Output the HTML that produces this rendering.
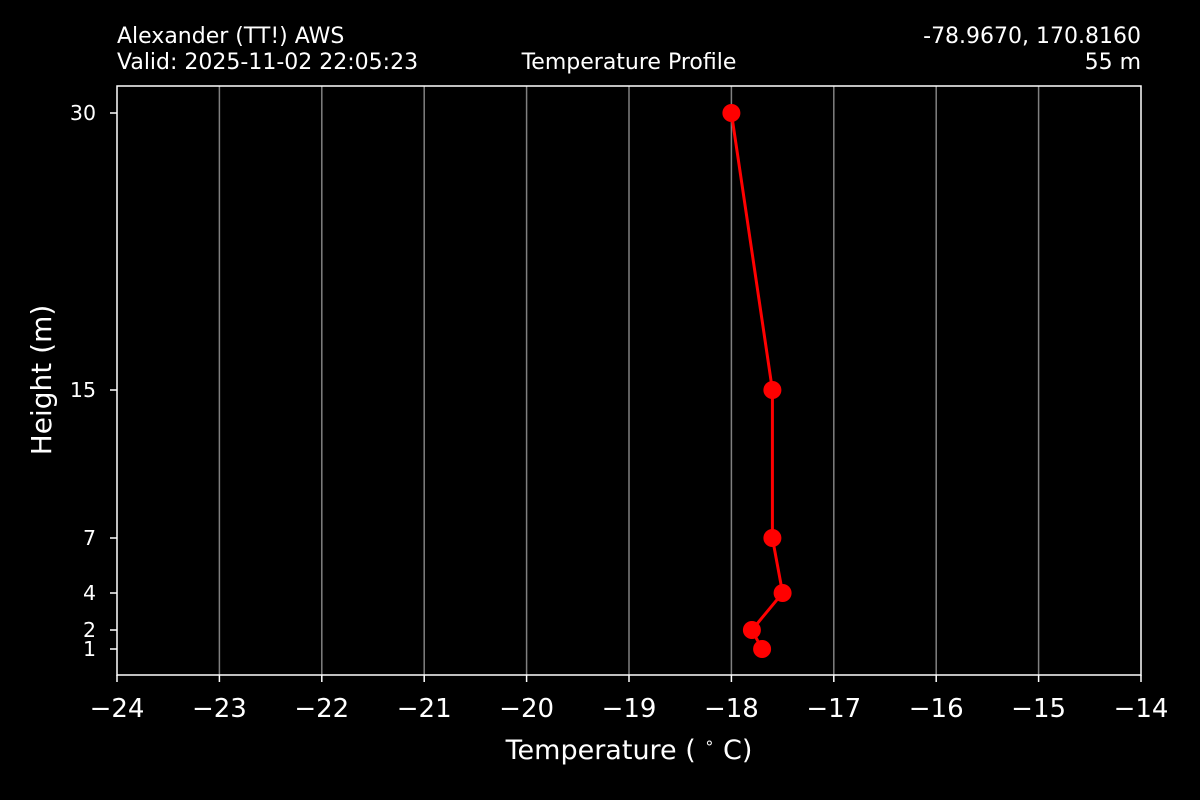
<!DOCTYPE html>
<html><head><meta charset="utf-8"><style>
html,body{margin:0;padding:0;background:#000;}
svg{display:block;font-family:"DejaVu Sans","Liberation Sans",sans-serif;}
</style></head><body>
<svg width="1200" height="800" viewBox="0 0 1200 800" xmlns="http://www.w3.org/2000/svg">
<rect width="1200" height="800" fill="#000"/>
<g stroke="#808080" stroke-width="1.5">
<line x1="219.4" y1="86" x2="219.4" y2="675"/>
<line x1="321.8" y1="86" x2="321.8" y2="675"/>
<line x1="424.2" y1="86" x2="424.2" y2="675"/>
<line x1="526.6" y1="86" x2="526.6" y2="675"/>
<line x1="629" y1="86" x2="629" y2="675"/>
<line x1="731.4" y1="86" x2="731.4" y2="675"/>
<line x1="833.8" y1="86" x2="833.8" y2="675"/>
<line x1="936.2" y1="86" x2="936.2" y2="675"/>
<line x1="1038.6" y1="86" x2="1038.6" y2="675"/>
</g>
<rect x="117" y="86" width="1024" height="589" fill="none" stroke="#fff" stroke-width="1.5"/>
<g stroke="#fff" stroke-width="1.5">
<line x1="117" y1="675" x2="117" y2="682"/><line x1="219.4" y1="675" x2="219.4" y2="682"/>
<line x1="321.8" y1="675" x2="321.8" y2="682"/><line x1="424.2" y1="675" x2="424.2" y2="682"/>
<line x1="526.6" y1="675" x2="526.6" y2="682"/><line x1="629" y1="675" x2="629" y2="682"/>
<line x1="731.4" y1="675" x2="731.4" y2="682"/><line x1="833.8" y1="675" x2="833.8" y2="682"/>
<line x1="936.2" y1="675" x2="936.2" y2="682"/><line x1="1038.6" y1="675" x2="1038.6" y2="682"/>
<line x1="1141" y1="675" x2="1141" y2="682"/>
<line x1="110" y1="113" x2="117" y2="113"/><line x1="110" y1="390" x2="117" y2="390"/>
<line x1="110" y1="538" x2="117" y2="538"/><line x1="110" y1="593" x2="117" y2="593"/>
<line x1="110" y1="630" x2="117" y2="630"/><line x1="110" y1="649" x2="117" y2="649"/>
</g>
<g fill="#fff" font-size="26" text-anchor="middle">
<text x="117" y="717">−24</text><text x="219.4" y="717">−23</text><text x="321.8" y="717">−22</text>
<text x="424.2" y="717">−21</text><text x="526.6" y="717">−20</text><text x="629" y="717">−19</text>
<text x="731.4" y="717">−18</text><text x="833.8" y="717">−17</text><text x="936.2" y="717">−16</text>
<text x="1038.6" y="717">−15</text><text x="1141" y="717">−14</text>
</g>
<g fill="#fff" font-size="20.5" text-anchor="end">
<text x="96" y="120">30</text><text x="96" y="397">15</text><text x="96" y="545">7</text>
<text x="96" y="600">4</text><text x="96" y="637">2</text><text x="96" y="656">1</text>
</g>
<text x="629" y="759" fill="#fff" font-size="27" text-anchor="middle" xml:space="preserve">Temperature ( <tspan font-size="16" dy="-11">∘</tspan><tspan dy="11"> C)</tspan></text>
<text transform="translate(51,380) rotate(-90)" fill="#fff" font-size="28" text-anchor="middle">Height (m)</text>
<g fill="#fff" font-size="22">
<text x="117" y="43">Alexander (TT!) AWS</text>
<text x="117" y="69">Valid: 2025-11-02 22:05:23</text>
<text x="629" y="69" text-anchor="middle">Temperature Profile</text>
<text x="1141" y="43" text-anchor="end">-78.9670, 170.8160</text>
<text x="1141" y="69" text-anchor="end">55 m</text>
</g>
<polyline points="731.4,113 772.4,390 772.4,538 782.6,593 751.9,630 762.1,649" fill="none" stroke="#f00" stroke-width="3"/>
<g fill="#f00">
<circle cx="731.4" cy="113" r="9"/><circle cx="772.4" cy="390" r="9"/><circle cx="772.4" cy="538" r="9"/>
<circle cx="782.6" cy="593" r="9"/><circle cx="751.9" cy="630" r="9"/><circle cx="762.1" cy="649" r="9"/>
</g>
</svg>
</body></html>
